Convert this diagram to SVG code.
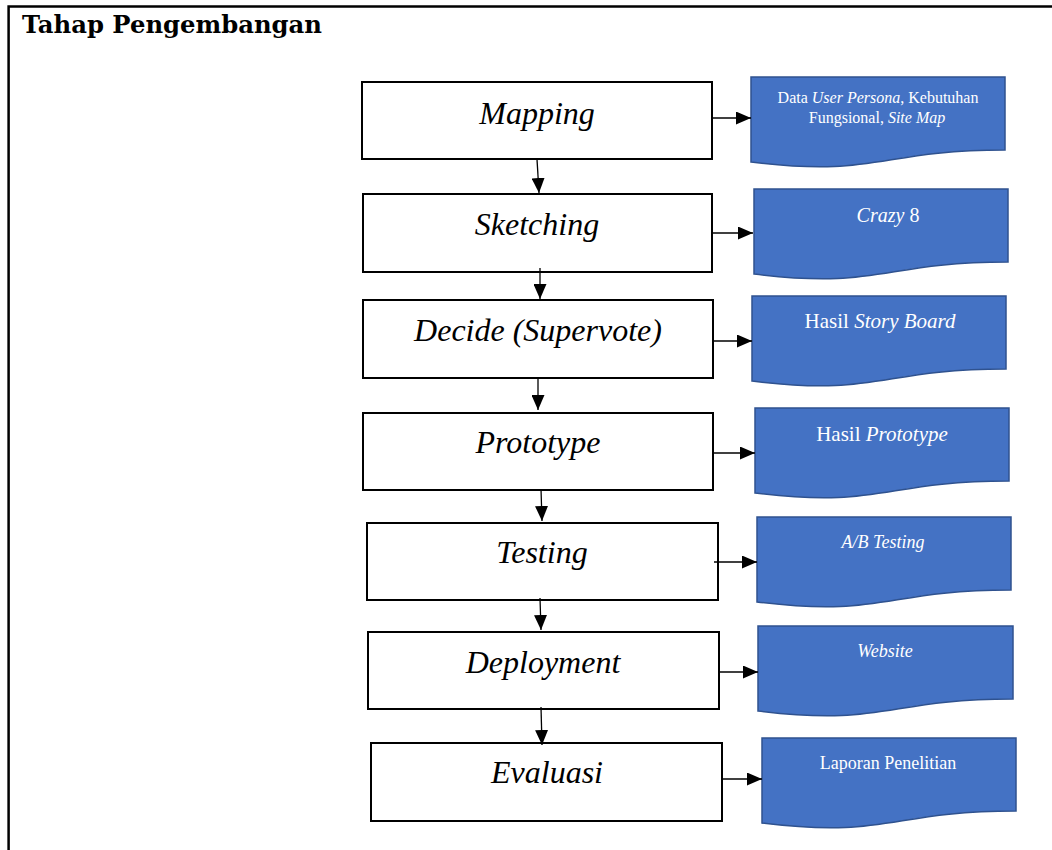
<svg xmlns="http://www.w3.org/2000/svg" width="1052" height="850" viewBox="0 0 1052 850">
<style>
.frame{fill:none;stroke:#000;stroke-width:2.5}
.box{fill:#fff;stroke:#000;stroke-width:2}
.bt{font-family:"Liberation Serif",serif;font-style:italic;font-size:32px;fill:#000;text-anchor:middle}
.doc{fill:#4472C4;stroke:#2F528F;stroke-width:1.5}
.dt{font-family:"Liberation Serif",serif;fill:#fff;text-anchor:middle}
.i{font-style:italic}
.c{fill:none;stroke:#000;stroke-width:1.3}
.title{font-family:"DejaVu Serif",serif;font-weight:bold;font-size:24px;fill:#000}
</style>
<defs>
<marker id="ah" markerUnits="userSpaceOnUse" markerWidth="15" markerHeight="13" refX="15" refY="6.5" orient="auto">
<path d="M0,0 L15,6.5 L0,13 z" fill="#000"/>
</marker>
</defs>
<rect width="1052" height="850" fill="#fff"/>
<path class="frame" d="M8.6,850 V6.5 H1052"/>
<text class="title" x="22" y="33" textLength="300" lengthAdjust="spacingAndGlyphs">Tahap Pengembangan</text>

<g id="n-mapping"><rect class="box" x="362" y="82" width="350" height="77"/><text class="bt" x="537" y="124">Mapping</text></g>
<g id="n-sketching"><rect class="box" x="363" y="194" width="349" height="78"/><text class="bt" x="537" y="235">Sketching</text></g>
<g id="n-decide"><rect class="box" x="363" y="300" width="350" height="78"/><text class="bt" x="538" y="341">Decide (Supervote)</text></g>
<g id="n-prototype"><rect class="box" x="363" y="413" width="350" height="77"/><text class="bt" x="538" y="453">Prototype</text></g>
<g id="n-testing"><rect class="box" x="367" y="523" width="351" height="77"/><text class="bt" x="542" y="563">Testing</text></g>
<g id="n-deployment"><rect class="box" x="368" y="632" width="351" height="77"/><text class="bt" x="543" y="673">Deployment</text></g>
<g id="n-evaluasi"><rect class="box" x="371" y="743" width="351" height="78"/><text class="bt" x="547" y="783">Evaluasi</text></g>

<g id="d-mapping"><path class="doc" d="M751,77 H1005 V150 C878,150 878,177.7 751,162 Z"/>
<text class="dt" font-size="16" x="878" y="103">Data <tspan class="i">User Persona</tspan>, Kebutuhan</text>
<text class="dt" font-size="16" x="877" y="123">Fungsional, <tspan class="i">Site Map</tspan></text></g>
<g id="d-sketching"><path class="doc" d="M754,189 H1008 V262 C881,262 881,289.7 754,274 Z"/>
<text class="dt" font-size="20" x="888" y="222"><tspan class="i">Crazy</tspan> 8</text></g>
<g id="d-decide"><path class="doc" d="M752,296 H1006 V369 C879,369 879,396.7 752,381 Z"/>
<text class="dt" font-size="21" x="880" y="328">Hasil <tspan class="i">Story Board</tspan></text></g>
<g id="d-prototype"><path class="doc" d="M755,408 H1009 V481 C882,481 882,508.7 755,493 Z"/>
<text class="dt" font-size="21" x="882" y="441">Hasil <tspan class="i">Prototype</tspan></text></g>
<g id="d-testing"><path class="doc" d="M757,517 H1011 V590 C884,590 884,617.7 757,602 Z"/>
<text class="dt i" font-size="18" x="883" y="548">A/B Testing</text></g>
<g id="d-deployment"><path class="doc" d="M758,626 H1013 V699 C885.5,699 885.5,726.7 758,711 Z"/>
<text class="dt i" font-size="18" x="885" y="657">Website</text></g>
<g id="d-evaluasi"><path class="doc" d="M762,738 H1016 V811 C889,811 889,838.7 762,823 Z"/>
<text class="dt" font-size="18" x="888" y="769">Laporan Penelitian</text></g>

<g id="connectors">
<line class="c" x1="537" y1="159" x2="539" y2="193" marker-end="url(#ah)"/>
<line class="c" x1="540" y1="268" x2="540" y2="299" marker-end="url(#ah)"/>
<line class="c" x1="538" y1="378" x2="538" y2="410" marker-end="url(#ah)"/>
<line class="c" x1="541" y1="489" x2="542" y2="521" marker-end="url(#ah)"/>
<line class="c" x1="540" y1="598" x2="541" y2="630" marker-end="url(#ah)"/>
<line class="c" x1="541" y1="707" x2="542" y2="745" marker-end="url(#ah)"/>
<line class="c" x1="712" y1="118" x2="751" y2="118" marker-end="url(#ah)"/>
<line class="c" x1="712" y1="233" x2="753" y2="233" marker-end="url(#ah)"/>
<line class="c" x1="713" y1="341" x2="752" y2="341" marker-end="url(#ah)"/>
<line class="c" x1="713" y1="453" x2="755" y2="453" marker-end="url(#ah)"/>
<line class="c" x1="714" y1="562" x2="757" y2="562" marker-end="url(#ah)"/>
<line class="c" x1="719" y1="672" x2="758" y2="672" marker-end="url(#ah)"/>
<line class="c" x1="722" y1="779" x2="762" y2="779" marker-end="url(#ah)"/>
</g>
</svg>
